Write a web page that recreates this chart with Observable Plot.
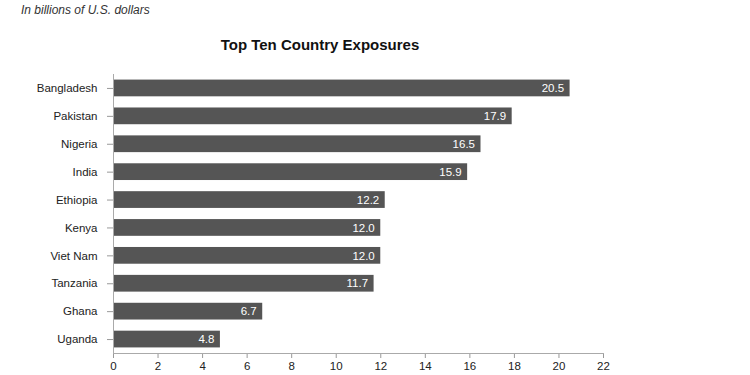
<!DOCTYPE html>
<html>
<head>
<meta charset="utf-8">
<script src="https://cdn.jsdelivr.net/npm/d3@7"></script>
<script src="https://cdn.jsdelivr.net/npm/@observablehq/plot@0.6"></script>
<style>
  body { margin: 0; background: #fff; font-family: "Liberation Sans", Arial, sans-serif; }
  #wrap { position: relative; width: 750px; height: 375px; }
  #sub { position: absolute; left: 21px; top: 3px; font-size: 12px; font-style: italic; color: #333; }
  #title { position: absolute; left: 0; width: 640px; text-align: center; top: 36px; font-size: 15px; font-weight: bold; color: #111; }
  #chart { position: absolute; left: 0; top: 0; }
</style>
</head>
<body>
<div id="wrap">
  <div id="chart"></div>
  <div id="sub">In billions of U.S. dollars</div>
  <div id="title">Top Ten Country Exposures</div>
</div>
<script>
const countries = ["Bangladesh", "Pakistan", "Nigeria", "India", "Ethiopia", "Kenya", "Viet Nam", "Tanzania", "Ghana", "Uganda"];
const exposures = [20.5, 17.9, 16.5, 15.9, 12.2, 12.0, 12.0, 11.7, 6.7, 4.8];
const xTicks = [0, 2, 4, 6, 8, 10, 12, 14, 16, 18, 20, 22];

const data = countries.map((c, i) => ({country: c, value: exposures[i]}));

const plot = Plot.plot({
  width: 750,
  height: 375,
  marginTop: 74,
  marginBottom: 22,
  marginLeft: 113,
  marginRight: 147,
  style: {fontFamily: "Liberation Sans, Arial, sans-serif", fontSize: "11.5px", color: "#222", background: "transparent"},
  x: {domain: [0, 22], label: null},
  y: {domain: countries, paddingInner: 0.4, paddingOuter: 0.2, round: false, label: null},
  marks: [
    Plot.barX(data, {x: "value", y: "country", fill: "#555555"}),
    Plot.text(data, {x: "value", y: "country", text: d => d.value.toFixed(1), textAnchor: "end", dx: -6, fill: "white", fontSize: 11.5}),
    Plot.axisX({ticks: xTicks, tickSize: 5, tickPadding: 3, stroke: "#999", fill: "#222", tickFormat: d3.format("d"), label: null}),
    Plot.axisY({tickSize: 6, tickPadding: 10, stroke: "#999", fill: "#222", label: null}),
    Plot.frame({anchor: "bottom", stroke: "#aaa"}),
    Plot.frame({anchor: "left", stroke: "#aaa"})
  ]
});
document.getElementById("chart").appendChild(plot);
</script>
</body>
</html>
